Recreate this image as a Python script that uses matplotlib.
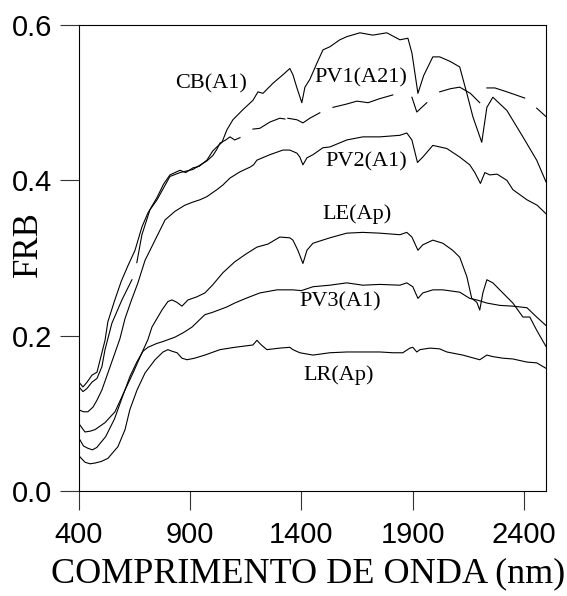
import matplotlib
matplotlib.use("Agg")
import matplotlib.pyplot as plt
import numpy as np

# ── Data (wavelength nm, reflectance) ────────────────────────────────────
nan = np.nan

cb_wl = [400, 418, 436, 458, 481, 503, 517, 530, 560, 590, 620, 652, 683, 710,
         751, 780, 809, 854, 880, 912, 940, 975, 1002, 1020, 1043, 1065, 1092,
         1137, 1182, 1205, 1227, 1272, 1317, 1348, 1362, 1380, 1402, 1416, 1438,
         1470, 1497, 1528, 1573, 1604, 1663, 1721, 1784, 1843, 1879, 1897, 1924,
         1950, 1991, 2022, 2070, 2112, 2144, 2171, 2211, 2234, 2261, 2324, 2396,
         2458, 2500]
cb_val = [0.140, 0.134, 0.140, 0.149, 0.153, 0.178, 0.194, 0.218, 0.245, 0.270,
          0.290, 0.310, 0.340, 0.358, 0.378, 0.395, 0.407, 0.413, 0.410, 0.416,
          0.418, 0.426, 0.438, 0.443, 0.449, 0.465, 0.478, 0.491, 0.503, 0.514,
          0.512, 0.525, 0.536, 0.544, 0.536, 0.519, 0.500, 0.520, 0.530, 0.551,
          0.568, 0.572, 0.581, 0.585, 0.590, 0.587, 0.590, 0.581, 0.583, 0.564,
          0.512, 0.535, 0.559, 0.559, 0.553, 0.546, 0.512, 0.482, 0.449, 0.494,
          0.507, 0.490, 0.456, 0.426, 0.398]

# PV1 has gaps in the record (NaN breaks the line)
pv1_wl = [400, 418, 436, 458, 481, 503, 517, 548, 593, 638, 645, 660, 683, 719,
          751, 780, 809, 854, 912, 975, 1002, 1020, 1034, 1060, 1079, 1100, 1124,
          1150, 1182, 1213, 1258, 1303, 1326, 1332, 1339, 1380, 1407, 1438, 1483,
          1510, 1542, 1600, 1650, 1700, 1750, 1811, 1850, 1897, 1919, 1964, 1990,
          2022, 2070, 2112, 2160, 2202, 2220, 2234, 2270, 2324, 2404, 2430, 2458,
          2500]
pv1_val = [0.134, 0.128, 0.132, 0.140, 0.145, 0.160, 0.182, 0.216, 0.246, 0.272,
           nan, 0.294, 0.330, 0.362, 0.375, 0.390, 0.405, 0.410, 0.414, 0.425,
           0.432, 0.440, 0.448, 0.452, 0.456, 0.452, 0.455, nan, 0.466, 0.467,
           0.475, 0.480, 0.479, nan, 0.480, 0.478, 0.474, 0.480, 0.487, nan,
           0.494, 0.498, 0.502, 0.500, 0.505, 0.510, nan, 0.507, 0.488, 0.500,
           nan, 0.514, 0.518, 0.520, 0.512, 0.500, nan, 0.519, 0.519, 0.514,
           0.506, nan, 0.493, 0.482]

pv2_wl = [404, 420, 440, 463, 481, 503, 530, 562, 584, 607, 635, 665, 697, 742,
          787, 831, 876, 912, 944, 975, 1020, 1047, 1079, 1124, 1169, 1185, 1200,
          1258, 1317, 1348, 1380, 1393, 1407, 1425, 1452, 1497, 1528, 1604, 1676,
          1753, 1843, 1874, 1897, 1922, 1946, 1991, 2054, 2112, 2157, 2180, 2205,
          2225, 2247, 2280, 2324, 2351, 2414, 2460, 2500]
pv2_val = [0.104, 0.102, 0.102, 0.108, 0.117, 0.130, 0.152, 0.178, 0.196, 0.222,
           0.245, 0.268, 0.297, 0.323, 0.349, 0.360, 0.368, 0.372, 0.375, 0.379,
           0.388, 0.394, 0.403, 0.411, 0.417, 0.420, 0.426, 0.433, 0.439, 0.439,
           0.435, 0.430, 0.420, 0.429, 0.433, 0.442, 0.443, 0.452, 0.456, 0.456,
           0.458, 0.461, 0.452, 0.423, 0.430, 0.445, 0.441, 0.430, 0.420, 0.410,
           0.396, 0.410, 0.407, 0.408, 0.400, 0.388, 0.375, 0.368, 0.357]

le_wl = [404, 427, 450, 472, 517, 562, 607, 643, 683, 710, 728, 773, 800, 818,
         840, 863, 890, 930, 966, 1000, 1047, 1100, 1150, 1200, 1250, 1303, 1348,
         1362, 1384, 1407, 1425, 1452, 1528, 1604, 1676, 1753, 1843, 1874, 1897,
         1924, 1946, 1991, 2036, 2080, 2112, 2144, 2166, 2189, 2202, 2216, 2234,
         2261, 2292, 2351, 2396, 2427, 2458, 2500]
le_val = [0.085, 0.076, 0.077, 0.079, 0.088, 0.102, 0.130, 0.152, 0.178, 0.195,
          0.211, 0.233, 0.244, 0.246, 0.243, 0.238, 0.246, 0.250, 0.255, 0.265,
          0.281, 0.295, 0.305, 0.314, 0.318, 0.327, 0.326, 0.323, 0.310, 0.293,
          0.310, 0.319, 0.326, 0.332, 0.333, 0.332, 0.330, 0.333, 0.327, 0.310,
          0.317, 0.323, 0.319, 0.310, 0.301, 0.276, 0.248, 0.243, 0.233, 0.255,
          0.272, 0.268, 0.259, 0.242, 0.224, 0.224, 0.207, 0.186]

pv3_wl = [404, 420, 440, 460, 480, 520, 560, 600, 630, 660, 688, 710, 750, 773,
          831, 870, 908, 966, 1000, 1065, 1100, 1150, 1213, 1290, 1362, 1400, 1452,
          1528, 1604, 1676, 1753, 1843, 1874, 1901, 1924, 1946, 1991, 2036, 2112,
          2157, 2189, 2234, 2292, 2351, 2414, 2458, 2500]
pv3_val = [0.066, 0.058, 0.055, 0.053, 0.056, 0.070, 0.093, 0.125, 0.148, 0.166,
           0.180, 0.185, 0.190, 0.192, 0.198, 0.204, 0.211, 0.227, 0.230, 0.237,
           0.242, 0.248, 0.255, 0.259, 0.259, 0.258, 0.263, 0.265, 0.268, 0.265,
           0.266, 0.265, 0.268, 0.263, 0.248, 0.255, 0.259, 0.259, 0.256, 0.248,
           0.246, 0.242, 0.239, 0.238, 0.236, 0.224, 0.213]

lr_wl = [404, 427, 450, 472, 500, 530, 575, 607, 629, 661, 697, 742, 778, 800,
         818, 841, 863, 886, 920, 966, 1034, 1100, 1182, 1200, 1220, 1245, 1303,
         1348, 1362, 1393, 1452, 1528, 1604, 1676, 1753, 1811, 1856, 1888, 1901,
         1919, 1933, 1978, 2022, 2054, 2126, 2202, 2234, 2261, 2306, 2351, 2414,
         2458, 2500]
lr_val = [0.044, 0.037, 0.035, 0.036, 0.038, 0.042, 0.057, 0.079, 0.105, 0.130,
          0.152, 0.169, 0.179, 0.182, 0.180, 0.178, 0.171, 0.169, 0.171, 0.175,
          0.182, 0.185, 0.188, 0.194, 0.188, 0.182, 0.184, 0.185, 0.182, 0.178,
          0.175, 0.178, 0.179, 0.179, 0.179, 0.178, 0.178, 0.184, 0.185, 0.179,
          0.182, 0.184, 0.183, 0.179, 0.175, 0.169, 0.175, 0.173, 0.171, 0.170,
          0.166, 0.165, 0.158]

labels = ["CB(A1)", "PV1(A21)", "PV2(A1)", "LE(Ap)", "PV3(A1)", "LR(Ap)"]
label_wl = [993, 1667, 1690, 1649, 1573, 1569]
label_val = [0.524, 0.532, 0.424, 0.357, 0.243, 0.149]

x_ticks = [400, 900, 1400, 1900, 2400]
y_ticks = [0.0, 0.2, 0.4, 0.6]

# ── Plot ────────────────────────────────────────────────────────────────
serif = ["Liberation Serif", "DejaVu Serif"]
sans = ["Liberation Sans", "DejaVu Sans"]

fig = plt.figure(figsize=(5.67, 5.96), dpi=100)
ax = fig.add_axes([0.1393, 0.1762, 0.8237, 0.7818])

for wl, val in [(cb_wl, cb_val), (pv1_wl, pv1_val), (pv2_wl, pv2_val),
                (le_wl, le_val), (pv3_wl, pv3_val), (lr_wl, lr_val)]:
    ax.plot(wl, val, color="black", lw=0.8)

for txt, x, y in zip(labels, label_wl, label_val):
    ax.text(x, y, txt, ha="center", va="center", fontsize=16,
            family=serif)

ax.set_xlim(400, 2500)
ax.set_ylim(0, 0.6)
ax.set_xticks(x_ticks)
ax.set_yticks(y_ticks)
ax.set_yticklabels([f"{v:.1f}" for v in y_ticks])
ax.tick_params(direction="out", length=13.5, width=0.8, pad=6,
               labelsize=21, color="#333333")
ax.tick_params(axis="x", pad=8)
for lbl in ax.get_xticklabels() + ax.get_yticklabels():
    lbl.set_family(sans)
for sp in ax.spines.values():
    sp.set_linewidth(0.8)

ax.set_xlabel("COMPRIMENTO DE ONDA (nm)", fontsize=26, family=serif)
ax.xaxis.label.set_va("center")
ax.xaxis.set_label_coords(0.49, -0.178)
ax.set_ylabel("FRB", fontsize=25, family=serif)
ax.yaxis.set_label_coords(-0.072, 0.53)

fig.savefig("out.png", dpi=100)
